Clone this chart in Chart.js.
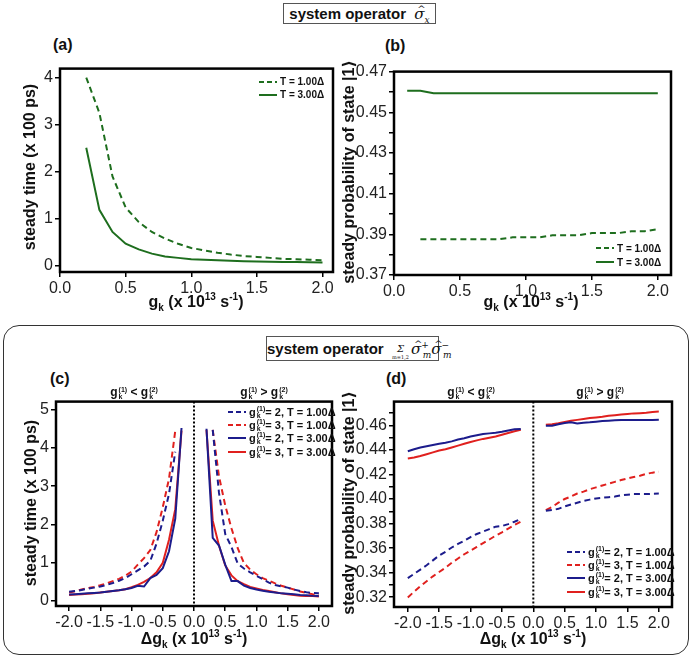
<!DOCTYPE html>
<html>
<head>
<meta charset="utf-8">
<script src="https://cdn.jsdelivr.net/npm/chart.js@4.4.1/dist/chart.umd.min.js"></script>
<style>
  body { margin: 0; background: #fff; font-family: "Liberation Sans", Arial, sans-serif; }
  #fig { position: relative; width: 692px; height: 658px; overflow: hidden; }
  #fig canvas { position: absolute; }
  .t { position: absolute; white-space: nowrap; color: #111; font-weight: bold; }
  .ytitle { font-size: 16px; transform: translate(-50%, -50%) rotate(-90deg); }
  .ket { font-family: "DejaVu Sans", sans-serif; font-weight: bold; }
  .xtitle { font-size: 16px; transform: translate(-50%, -50%); }
  .xtitle sub, .xtitle sup { font-size: 10px; }
  .lab { font-size: 16px; line-height: 16px; }
  .head { font-size: 12px; transform: translateX(-50%); }
  .outer { position: absolute; left: 3px; top: 325px; width: 684px; height: 328px;
           border: 1.5px solid #333; border-radius: 16px; }
  .opbox { position: absolute; border: 1.5px solid #555; font-weight: bold; font-size: 15px;
           white-space: nowrap; text-align: center; background: #fff; color: #111; }
  .op { font-family: "DejaVu Serif", "Liberation Serif", serif; font-style: italic; font-weight: normal;
        font-size: 15px; color: #111; }
  .op sub, .op sup { font-size: 9px; line-height: 0; }
  .hat { position: relative; display: inline-block; line-height: 15px; }
  .hat::after { content: "^"; position: absolute; left: 3px; top: -6px; font-size: 10px; }
  .sig { display: inline-block; text-align: center; vertical-align: -5px; line-height: 8px; margin-right: 2px; }
  .sig span { display: block; }
  .leg { position: absolute; font-weight: bold; color: #111; }
  .leg div { display: flex; align-items: center; white-space: nowrap; }
  .leg svg { margin-right: 3px; }
  .ix { display: inline-block; vertical-align: -3px; font-size: 7px; line-height: 7px; margin-left: 1px; }
  .ix span { display: block; }
</style>
</head>
<body>
<div id="fig">
  <canvas id="chartA" width="345" height="240" style="left:0;top:57px"></canvas>
  <canvas id="chartB" width="337" height="240" style="left:346px;top:60px"></canvas>
  <div class="outer"></div>
  <canvas id="chartC" width="344" height="241" style="left:0;top:390px"></canvas>
  <canvas id="chartD" width="338" height="242" style="left:346px;top:390px"></canvas>

  <div class="opbox" style="left:283px;top:3px;width:151px;height:19px;line-height:19px">system operator&nbsp;&nbsp;<span class="op"><span class="hat">σ</span><sub>x</sub></span></div>
  <div class="opbox" style="left:266px;top:336px;width:171px;height:23px;line-height:23px">system operator&nbsp;&nbsp;<span class="op"><span class="sig"><span style="font-size:10px">Σ</span><span style="font-size:5px;font-style:normal">m=1,2</span></span><span class="hat">σ</span><sup>+</sup><sub style="margin-left:-6px">m</sub><span class="hat">σ</span><sup>−</sup><sub style="margin-left:-6px">m</sub></span></div>

  <div class="t lab" style="left:53px;top:37px">(a)</div>
  <div class="t lab" style="left:385px;top:38px">(b)</div>
  <div class="t lab" style="left:50px;top:371px">(c)</div>
  <div class="t lab" style="left:386px;top:371px">(d)</div>

  <div class="t ytitle" style="left:30px;top:167px">steady time (x 100 ps)</div>
  <div class="t ytitle" style="left:348px;top:172px">steady probability of state |1<span class="ket">⟩</span></div>
  <div class="t ytitle" style="left:31px;top:503px">steady time (x 100 ps)</div>
  <div class="t ytitle" style="left:348px;top:503px">steady probability of state |1<span class="ket">⟩</span></div>

  <div class="t xtitle" style="left:196px;top:302px">g<sub>k</sub> (x 10<sup>13</sup> s<sup>-1</sup>)</div>
  <div class="t xtitle" style="left:531px;top:302px">g<sub>k</sub> (x 10<sup>13</sup> s<sup>-1</sup>)</div>
  <div class="t xtitle" style="left:194px;top:639px">Δg<sub>k</sub> (x 10<sup>13</sup> s<sup>-1</sup>)</div>
  <div class="t xtitle" style="left:533px;top:639px">Δg<sub>k</sub> (x 10<sup>13</sup> s<sup>-1</sup>)</div>

  <div class="t head" style="left:134px;top:385px">g<span class="ix"><span>(1)</span><span>k</span></span> &lt; g<span class="ix"><span>(2)</span><span>k</span></span></div>
  <div class="t head" style="left:264px;top:385px">g<span class="ix"><span>(1)</span><span>k</span></span> &gt; g<span class="ix"><span>(2)</span><span>k</span></span></div>
  <div class="t head" style="left:471px;top:385px">g<span class="ix"><span>(1)</span><span>k</span></span> &lt; g<span class="ix"><span>(2)</span><span>k</span></span></div>
  <div class="t head" style="left:600px;top:385px">g<span class="ix"><span>(1)</span><span>k</span></span> &gt; g<span class="ix"><span>(2)</span><span>k</span></span></div>

  <div class="leg" id="legA" style="left:259px;top:75px;font-size:10px"></div>
  <div class="leg" id="legB" style="left:596px;top:241px;font-size:10px"></div>
  <div class="leg" id="legC" style="left:228px;top:405px;font-size:11px"></div>
  <div class="leg" id="legD" style="left:567px;top:545px;font-size:11px"></div>
</div>

<script>
// (a) steady time vs g_k
const gA = [0.2, 0.3, 0.4, 0.5, 0.6, 0.7, 0.8, 0.9, 1.0, 1.1, 1.2, 1.3, 1.4, 1.5, 1.6, 1.7, 1.8, 1.9, 2.0];
const timeT1 = [4.0, 3.25, 1.9, 1.24, 0.93, 0.72, 0.58, 0.47, 0.38, 0.33, 0.28, 0.24, 0.21, 0.19, 0.17, 0.15, 0.14, 0.13, 0.12];
const timeT3 = [2.51, 1.19, 0.72, 0.47, 0.35, 0.26, 0.2, 0.17, 0.14, 0.13, 0.12, 0.11, 0.1, 0.095, 0.09, 0.085, 0.08, 0.075, 0.07];

// (b) steady probability vs g_k
const gB1 = [0.2, 0.3, 0.4, 0.5, 0.6, 0.7, 0.8, 0.9, 1.0, 1.1, 1.2, 1.3, 1.4, 1.5, 1.6, 1.7, 1.8, 1.9, 2.0];
const gB3 = [0.1, 0.2, 0.3, 0.4, 0.5, 0.6, 0.7, 0.8, 0.9, 1.0, 1.1, 1.2, 1.3, 1.4, 1.5, 1.6, 1.7, 1.8, 1.9, 2.0];
const probT1 = [0.3876, 0.3876, 0.3876, 0.3876, 0.3876, 0.3876, 0.3876, 0.3885, 0.3885, 0.3885, 0.3895, 0.3895, 0.3895, 0.3906, 0.3906, 0.3906, 0.3915, 0.3915, 0.3925];
const probT3 = [0.4606, 0.4606, 0.4594, 0.4594, 0.4594, 0.4594, 0.4594, 0.4594, 0.4594, 0.4594, 0.4594, 0.4594, 0.4594, 0.4594, 0.4594, 0.4594, 0.4594, 0.4594, 0.4594, 0.4594];

// (c), (d) delta g_k, two branches
const dgLeft = [-2.0, -1.9, -1.8, -1.7, -1.6, -1.5, -1.4, -1.3, -1.2, -1.1, -1.0, -0.9, -0.8, -0.7, -0.6, -0.5, -0.4, -0.3, -0.2];
const dgLeftDash = [-2.0, -1.9, -1.8, -1.7, -1.6, -1.5, -1.4, -1.3, -1.2, -1.1, -1.0, -0.9, -0.8, -0.7, -0.6, -0.5, -0.4, -0.3];
const dgRight = [0.2, 0.3, 0.4, 0.5, 0.6, 0.7, 0.8, 0.9, 1.0, 1.1, 1.2, 1.3, 1.4, 1.5, 1.6, 1.7, 1.8, 1.9, 2.0];
const dgRightDash = [0.3, 0.4, 0.5, 0.6, 0.7, 0.8, 0.9, 1.0, 1.1, 1.2, 1.3, 1.4, 1.5, 1.6, 1.7, 1.8, 1.9, 2.0];

// (c) steady time
const cG2T1Left = [0.24, 0.26, 0.29, 0.32, 0.35, 0.38, 0.42, 0.47, 0.53, 0.6, 0.7, 0.8, 0.9, 1.05, 1.5, 2.1, 2.8, 3.9];
const cG3T1Left = [0.22, 0.26, 0.3, 0.34, 0.37, 0.41, 0.46, 0.52, 0.58, 0.66, 0.77, 0.95, 1.12, 1.33, 1.8, 2.45, 3.2, 4.45];
const cG2T3Left = [0.17, 0.18, 0.19, 0.2, 0.21, 0.22, 0.24, 0.26, 0.28, 0.31, 0.34, 0.4, 0.38, 0.6, 0.68, 0.86, 1.3, 2.15, 4.52];
const cG3T3Left = [0.16, 0.17, 0.18, 0.19, 0.2, 0.22, 0.24, 0.26, 0.28, 0.31, 0.36, 0.42, 0.5, 0.6, 0.75, 1.0, 1.6, 2.4, 4.45];
const cG2T1Right = [4.47, 2.83, 1.75, 1.41, 0.98, 0.85, 0.75, 0.66, 0.57, 0.48, 0.42, 0.38, 0.35, 0.3, 0.26, 0.23, 0.21, 0.2];
const cG3T1Right = [4.47, 3.26, 2.5, 1.9, 1.38, 0.99, 0.82, 0.7, 0.6, 0.53, 0.46, 0.4, 0.35, 0.3, 0.25, 0.21, 0.18, 0.16];
const cG2T3Right = [4.5, 1.65, 1.45, 0.95, 0.52, 0.52, 0.4, 0.34, 0.3, 0.27, 0.24, 0.22, 0.2, 0.19, 0.18, 0.16, 0.15, 0.14, 0.13];
const cG3T3Right = [4.47, 2.1, 1.45, 0.93, 0.67, 0.52, 0.44, 0.37, 0.33, 0.29, 0.26, 0.23, 0.2, 0.18, 0.16, 0.14, 0.13, 0.13, 0.12];

// (d) steady probability
const dG2T1Left = [0.3355, 0.339, 0.3425, 0.346, 0.35, 0.354, 0.357, 0.3605, 0.3635, 0.366, 0.369, 0.3715, 0.3735, 0.3755, 0.3775, 0.378, 0.3795, 0.3815, 0.3837];
const dG3T1Left = [0.3198, 0.3245, 0.329, 0.333, 0.337, 0.3405, 0.344, 0.348, 0.3515, 0.355, 0.358, 0.361, 0.364, 0.367, 0.3702, 0.3729, 0.3758, 0.3788, 0.3815];
const dG2T3Left = [0.439, 0.4405, 0.442, 0.443, 0.444, 0.445, 0.4458, 0.447, 0.4485, 0.4495, 0.451, 0.452, 0.453, 0.4535, 0.454, 0.4548, 0.4558, 0.4568, 0.457];
const dG3T3Left = [0.433, 0.4338, 0.435, 0.4365, 0.438, 0.4395, 0.4405, 0.442, 0.4435, 0.445, 0.4465, 0.4478, 0.449, 0.45, 0.451, 0.4524, 0.4538, 0.4552, 0.4565];
const dG2T1Right = [0.3904, 0.391, 0.392, 0.394, 0.3955, 0.397, 0.3985, 0.3995, 0.4005, 0.401, 0.4015, 0.402, 0.403, 0.4035, 0.404, 0.404, 0.404, 0.4043, 0.4045];
const dG3T1Right = [0.391, 0.3935, 0.397, 0.4, 0.402, 0.4045, 0.406, 0.408, 0.4095, 0.411, 0.4125, 0.414, 0.4155, 0.4168, 0.418, 0.419, 0.4205, 0.4215, 0.4222];
const dG2T3Right = [0.4597, 0.4598, 0.461, 0.462, 0.4625, 0.4615, 0.4622, 0.4625, 0.463, 0.4635, 0.4638, 0.4642, 0.4645, 0.4645, 0.4645, 0.4645, 0.4645, 0.4645, 0.4646];
const dG3T3Right = [0.4605, 0.461, 0.4618, 0.4628, 0.4638, 0.4645, 0.4652, 0.466, 0.4665, 0.467, 0.4678, 0.4683, 0.4688, 0.4693, 0.4698, 0.47, 0.4703, 0.471, 0.4713];

const GREEN = "#1e6e1e";
const BLUE = "#1c1c8c";
const RED = "#e0201e";
const DASH = [6, 4];

Chart.defaults.font.family = '"Liberation Sans", Arial, sans-serif';
Chart.defaults.color = "#222";

const pts = (xs, ys) => xs.map((x, i) => ({ x: x, y: ys[i] }));

function line(xs, ys, color, dashed) {
  return {
    data: pts(xs, ys),
    borderColor: color,
    borderWidth: 2,
    borderDash: dashed ? DASH : [],
    pointRadius: 0,
    tension: 0,
    fill: false
  };
}

// black box around plot area, plus dotted line at x = 0
const frame = {
  id: "frame",
  afterDatasetsDraw(chart, args, opts) {
    const a = chart.chartArea;
    const ctx = chart.ctx;
    ctx.save();
    if (opts.zero) {
      const x0 = chart.scales.x.getPixelForValue(0);
      ctx.strokeStyle = "#000";
      ctx.lineWidth = 2;
      ctx.setLineDash([2, 2]);
      ctx.beginPath();
      ctx.moveTo(x0, a.top);
      ctx.lineTo(x0, a.bottom);
      ctx.stroke();
      ctx.setLineDash([]);
    }
    ctx.strokeStyle = "#000";
    ctx.lineWidth = 2.5;
    ctx.strokeRect(a.left, a.top, a.right - a.left, a.bottom - a.top);
    ctx.restore();
  }
};

function makeChart(id, datasets, x, y, yWidth, zero) {
  const tickGrid = { drawOnChartArea: false, tickLength: 5, color: "#000", lineWidth: 1.5 };
  return new Chart(document.getElementById(id), {
    type: "line",
    data: { datasets: datasets },
    plugins: [frame],
    options: {
      responsive: false,
      animation: false,
      layout: { padding: { top: 10, right: 12, left: 0, bottom: 0 } },
      plugins: { legend: { display: false }, tooltip: { enabled: false }, frame: { zero: zero } },
      scales: {
        x: {
          type: "linear", min: x.min, max: x.max,
          afterFit: s => { s.height = 25; },
          border: { display: false },
          grid: tickGrid,
          ticks: { stepSize: 0.5, includeBounds: false, autoSkip: false, maxRotation: 0, padding: 2,
                   font: { size: 16 }, callback: v => v.toFixed(1) }
        },
        y: {
          type: "linear", min: y.min, max: y.max,
          afterFit: s => { s.width = yWidth; },
          border: { display: false },
          grid: tickGrid,
          ticks: { stepSize: y.step, includeBounds: false, autoSkip: false, maxTicksLimit: 100, padding: 2,
                   font: { size: 16 }, callback: y.label }
        }
      }
    }
  });
}

makeChart("chartA", [
  line(gA, timeT1, GREEN, true),
  line(gA, timeT3, GREEN, false)
], { min: 0, max: 2.08 }, { min: -0.13, max: 4.19, step: 1, label: v => String(v) }, 60, false);

makeChart("chartB", [
  line(gB1, probT1, GREEN, true),
  line(gB3, probT3, GREEN, false)
], { min: 0, max: 2.1 }, { min: 0.37, max: 0.47, step: 0.01,
     label: v => Math.round(v * 100) % 2 === 1 ? v.toFixed(2) : "" }, 48, false);

makeChart("chartC", [
  line(dgLeftDash, cG2T1Left, BLUE, true),
  line(dgLeftDash, cG3T1Left, RED, true),
  line(dgLeft, cG2T3Left, BLUE, false),
  line(dgLeft, cG3T3Left, RED, false),
  line(dgRightDash, cG2T1Right, BLUE, true),
  line(dgRightDash, cG3T1Right, RED, true),
  line(dgRight, cG2T3Right, BLUE, false),
  line(dgRight, cG3T3Right, RED, false)
], { min: -2.21, max: 2.21 }, { min: -0.13, max: 5.21, step: 1, label: v => String(v) }, 56, true);

makeChart("chartD", [
  line(dgLeft, dG2T1Left, BLUE, true),
  line(dgLeft, dG3T1Left, RED, true),
  line(dgLeft, dG2T3Left, BLUE, false),
  line(dgLeft, dG3T3Left, RED, false),
  line(dgRight, dG2T1Right, BLUE, true),
  line(dgRight, dG3T1Right, RED, true),
  line(dgRight, dG2T3Right, BLUE, false),
  line(dgRight, dG3T3Right, RED, false)
], { min: -2.22, max: 2.21 }, { min: 0.312, max: 0.4794, step: 0.01,
     label: v => Math.round(v * 100) % 2 === 0 ? v.toFixed(2) : "" }, 48, true);

// legends
function sample(color, dashed) {
  return '<svg width="18" height="8"><line x1="0" y1="4" x2="18" y2="4" stroke="' + color +
    '" stroke-width="2"' + (dashed ? ' stroke-dasharray="5,3"' : '') + '/></svg>';
}

const legendT = [["T = 1.00Δ", true], ["T = 3.00Δ", false]];
const legendG = [["2", "1.00", BLUE, true], ["3", "1.00", RED, true], ["2", "3.00", BLUE, false], ["3", "3.00", RED, false]];

function renderLegends() {
  document.getElementById("legA").innerHTML = legendT.map(r =>
    '<div style="height:13px">' + sample(GREEN, r[1]) + r[0] + '</div>').join("");
  document.getElementById("legB").innerHTML = legendT.map(r =>
    '<div style="height:14px">' + sample(GREEN, r[1]) + r[0] + '</div>').join("");
  const rows = legendG.map(r =>
    '<div style="height:13.4px">' + sample(r[2], r[3]) +
    'g<span class="ix"><span>(1)</span><span>k</span></span>= ' + r[0] + ', T = ' + r[1] + 'Δ</div>').join("");
  document.getElementById("legC").innerHTML = rows;
  document.getElementById("legD").innerHTML = rows;
}

renderLegends();
</script>
</body>
</html>
